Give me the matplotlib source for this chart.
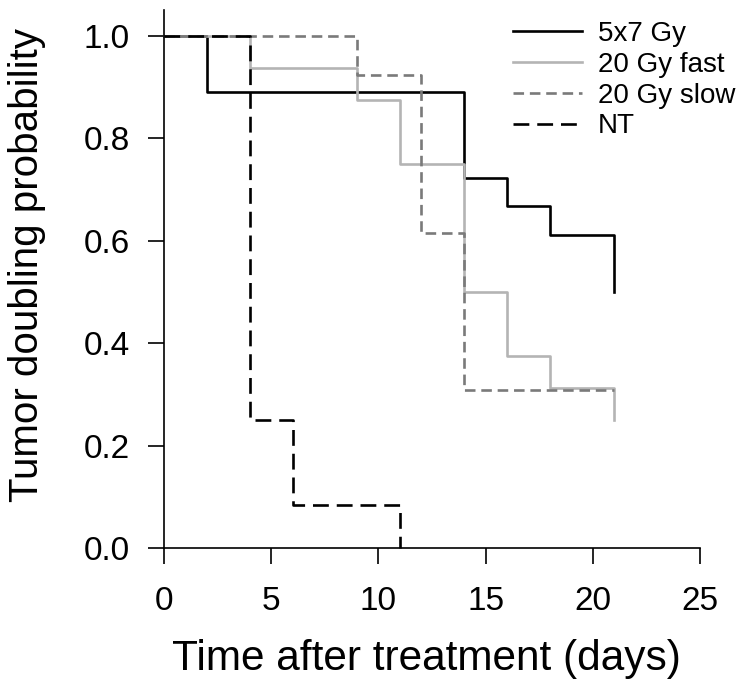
import matplotlib
matplotlib.use("Agg")
import matplotlib.pyplot as plt

plt.rcParams['font.family'] = ['Liberation Sans', 'DejaVu Sans']

# Kaplan-Meier style step curves (time in days, probability)
t_5x7 = [0, 2, 14, 16, 18, 21]
p_5x7 = [1.0, 0.889, 0.722, 0.667, 0.611, 0.5]

t_fast = [0, 4, 9, 11, 14, 16, 18, 21]
p_fast = [1.0, 0.9375, 0.875, 0.75, 0.5, 0.375, 0.3125, 0.25]

t_slow = [0, 9, 12, 14, 21]
p_slow = [1.0, 0.923, 0.615, 0.308, 0.308]

t_nt = [0, 4, 6, 11]
p_nt = [1.0, 0.25, 0.083, 0.0]

labels = ['5x7 Gy', '20 Gy fast', '20 Gy slow', 'NT']
xticks = [0, 5, 10, 15, 20, 25]
yticks = [0.0, 0.2, 0.4, 0.6, 0.8, 1.0]

fig = plt.figure(figsize=(7.5, 6.9), dpi=100)
ax = fig.add_axes([164/750, (690-548)/690, (700-164)/750, (548-10)/690])

ax.step(t_5x7, p_5x7, where='post', color='black', lw=1.9, label=labels[0])
ax.step(t_fast, p_fast, where='post', color='#b4b4b4', lw=1.9, label=labels[1])
ax.step(t_slow, p_slow, where='post', color='#7a7a7a', lw=1.9,
        dashes=(4, 2.2), label=labels[2])
ax.step(t_nt, p_nt, where='post', color='black', lw=1.9,
        dashes=(6, 3), label=labels[3])

ax.set_xlim(0, 25)
ax.set_ylim(0, 1.05)
ax.set_xticks(xticks)
ax.set_yticks(yticks)
ax.set_xticklabels([str(x) for x in xticks])
ax.set_yticklabels(['%.1f' % y for y in yticks])
ax.tick_params(axis='both', direction='out', length=11.5, width=1.2,
               labelsize=24)
ax.tick_params(axis='x', pad=16)
ax.tick_params(axis='y', pad=13)
ax.spines['top'].set_visible(False)
ax.spines['right'].set_visible(False)
ax.spines['left'].set_linewidth(1.2)
ax.spines['bottom'].set_linewidth(1.2)
for line in ax.lines:
    line.set_clip_on(False)

ax.set_xlabel('Time after treatment (days)', fontsize=30.5)
ax.set_ylabel('Tumor doubling probability', fontsize=29)
ax.xaxis.set_label_coords(0.49, -0.17)
ax.yaxis.set_label_coords(-0.22, 0.526)

ax.legend(loc='upper left', bbox_to_anchor=(0.63, 1.0), frameon=False,
          fontsize=20, handlelength=2.5, labelspacing=0.17, handletextpad=0.55,
          borderaxespad=0)

fig.savefig('out.png', dpi=100)
